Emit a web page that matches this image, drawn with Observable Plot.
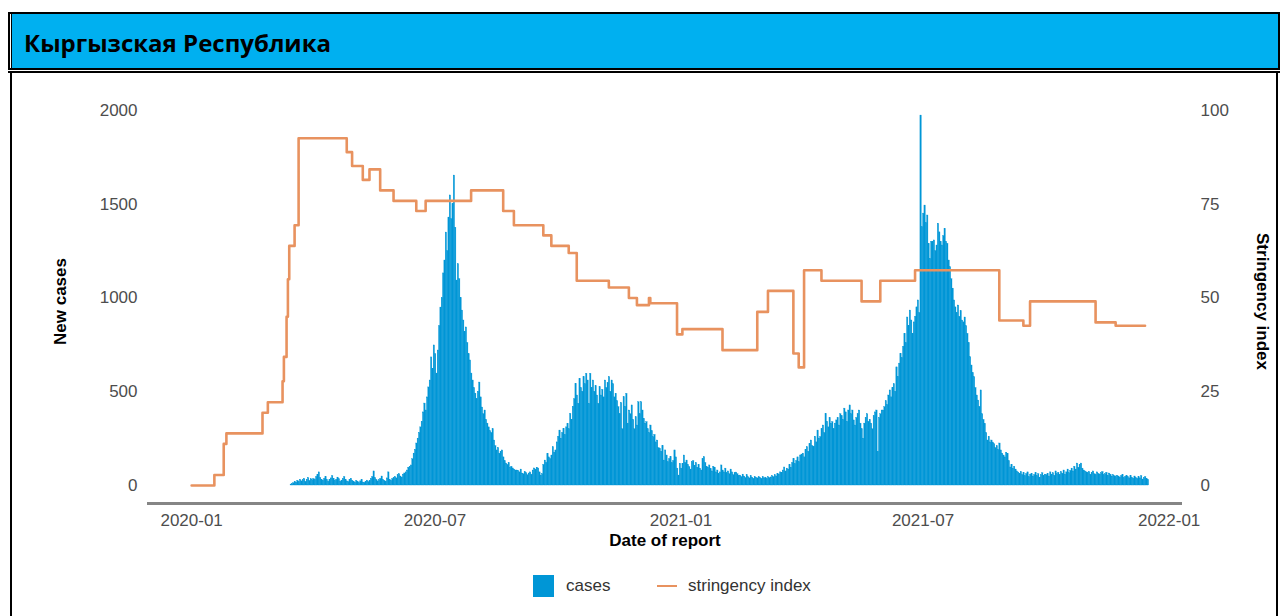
<!DOCTYPE html>
<html>
<head>
<meta charset="utf-8">
<script src="https://cdn.jsdelivr.net/npm/d3@7"></script>
<script src="https://cdn.jsdelivr.net/npm/@observablehq/plot@0.6"></script>
<style>
  html, body { margin: 0; padding: 0; background: #fff; }
  body { width: 1280px; height: 616px; overflow: hidden; position: relative; font-family: "Liberation Sans", Arial, sans-serif; }
  #titlebar { position: absolute; left: 8px; top: 12px; width: 1268px; height: 54px; background: #00B0F0;
    border: 2px solid #000;
    box-shadow: inset 1px 0 0 #fff, inset 2px 0 0 #000; }
  #titletext { position: absolute; left: 24px; top: 25px; font-family: "Open Sans", sans-serif; font-weight: 700; font-size: 24px; color: #000; line-height: 36px; white-space: nowrap; }
  #rule2 { position: absolute; left: 8px; top: 71px; width: 1272px; height: 2px; background: #000; }
  #leftborder { position: absolute; left: 10px; top: 71px; width: 2px; height: 545px; background: #000; }
  #rightborder { position: absolute; left: 1276px; top: 71px; width: 2px; height: 545px; background: #000; }
  #chart { position: absolute; left: 0; top: 74px; }
  #legend { position: absolute; top: 575px; left: 0; width: 1280px; height: 22px; font-size: 17px; color: #333; }
  .sw { position: absolute; }
  .lt { position: absolute; top: 1px; line-height: 20px; }
</style>
</head>
<body>
<div id="titlebar"></div>
<div id="titletext">Кыргызская Республика</div>
<div id="rule2"></div>
<div id="leftborder"></div>
<div id="rightborder"></div>
<div id="chart"></div>
<div id="legend">
  <div class="sw" style="left:533px;top:0;width:21px;height:22px;background:#0096D6;"></div>
  <div class="lt" style="left:566px;">cases</div>
  <div class="sw" style="left:657px;top:10px;width:20px;height:2px;background:#E8925F;"></div>
  <div class="lt" style="left:688px;">stringency index</div>
</div>
<script>
// ---------- data ----------
// daily new cases, one array per month; first array starts 2020-03-15
const cases2020_03 = [5, 8, 12, 20, 15, 25, 18, 30, 22, 28, 35, 20, 30, 40, 25, 33, 28];
const cases2020_04 = [35, 30, 45, 55, 70, 40, 30, 25, 35, 45, 30, 20, 28, 38, 50, 35, 25, 30, 42, 33, 20, 26, 35, 45, 30, 22, 18, 28, 36, 25];
const cases2020_05 = [20, 15, 25, 18, 12, 22, 30, 16, 14, 20, 26, 18, 24, 35, 45, 75, 40, 30, 22, 28, 35, 48, 30, 25, 20, 38, 70, 30, 25, 35, 40];
const cases2020_06 = [45, 38, 55, 60, 48, 42, 58, 64, 70, 80, 95, 100, 107, 140, 170, 190, 224, 250, 280, 310, 340, 390, 437, 400, 470, 523, 560, 683, 620, 747];
const cases2020_07 = [700, 597, 720, 850, 949, 1000, 1131, 1200, 1349, 1250, 1429, 1547, 1420, 1500, 1653, 1375, 1093, 1180, 1100, 1000, 933, 880, 820, 843, 760, 700, 667, 597, 560, 520, 490];
const cases2020_08 = [460, 500, 549, 470, 416, 380, 400, 350, 330, 310, 290, 280, 300, 240, 210, 187, 200, 170, 180, 187, 150, 130, 117, 110, 120, 95, 100, 91, 85, 80, 80];
const cases2020_09 = [78, 70, 85, 64, 60, 72, 66, 55, 64, 70, 58, 80, 91, 85, 95, 91, 70, 53, 60, 110, 133, 120, 169, 150, 140, 160, 204, 175, 187, 230];
const cases2020_10 = [260, 293, 250, 280, 302, 270, 310, 329, 300, 382, 350, 420, 460, 542, 480, 436, 569, 520, 500, 578, 540, 596, 560, 436, 596, 520, 560, 500, 530, 480, 436];
const cases2020_11 = [524, 480, 510, 470, 560, 520, 545, 578, 500, 560, 540, 470, 489, 450, 418, 380, 440, 300, 471, 420, 489, 330, 400, 380, 427, 350, 300, 364, 320, 444];
const cases2020_12 = [380, 444, 400, 356, 330, 338, 300, 280, 320, 290, 258, 270, 230, 240, 200, 196, 180, 210, 133, 187, 160, 124, 140, 151, 120, 130, 187, 150, 90, 53, 116];
const cases2021_01 = [90, 116, 160, 120, 133, 110, 98, 85, 125, 130, 105, 120, 95, 110, 90, 80, 140, 151, 120, 100, 95, 107, 88, 75, 100, 95, 70, 80, 62, 70, 107];
const cases2021_02 = [80, 70, 90, 65, 75, 60, 85, 70, 55, 65, 69, 60, 50, 53, 45, 58, 48, 40, 55, 44, 38, 50, 42, 36, 45, 40, 38, 44];
const cases2021_03 = [40, 36, 45, 38, 42, 35, 44, 40, 43, 50, 45, 55, 48, 62, 58, 70, 65, 80, 96, 75, 90, 85, 110, 95, 120, 142, 115, 130, 150, 125, 160];
const cases2021_04 = [165, 170, 150, 190, 204, 180, 220, 240, 210, 204, 260, 230, 293, 250, 258, 300, 320, 280, 382, 340, 310, 360, 330, 338, 300, 330, 347, 360, 320, 380];
const cases2021_05 = [370, 350, 410, 390, 340, 400, 427, 380, 400, 347, 320, 360, 380, 400, 330, 300, 250, 330, 360, 380, 340, 350, 330, 300, 370, 390, 400, 180, 360, 380, 400];
const cases2021_06 = [400, 418, 450, 430, 480, 507, 470, 520, 540, 500, 630, 580, 650, 702, 680, 740, 809, 760, 896, 850, 933, 880, 809, 870, 900, 950, 987, 920, 1973, 1378];
const cases2021_07 = [1450, 1493, 1400, 1440, 1289, 1209, 1300, 1298, 1307, 1250, 1280, 1396, 1350, 1300, 1280, 1330, 1369, 1300, 1289, 1200, 1164, 1100, 1050, 987, 950, 920, 960, 900, 930, 880, 870];
const cases2021_08 = [896, 850, 809, 760, 684, 640, 600, 578, 520, 480, 453, 420, 507, 380, 350, 329, 280, 240, 260, 230, 240, 229, 220, 200, 210, 190, 224, 187, 170, 160, 150];
const cases2021_09 = [175, 169, 130, 96, 110, 90, 100, 85, 75, 69, 60, 72, 55, 65, 50, 60, 70, 45, 58, 62, 48, 55, 66, 50, 60, 42, 55, 65, 50, 58];
const cases2021_10 = [55, 62, 48, 70, 58, 65, 52, 75, 60, 68, 55, 72, 63, 80, 58, 70, 85, 65, 78, 90, 75, 100, 85, 117, 95, 110, 117, 90, 80, 75, 70];
const cases2021_11 = [65, 72, 58, 68, 75, 60, 55, 70, 62, 58, 66, 72, 55, 60, 68, 52, 64, 58, 48, 55, 50, 45, 52, 48, 42, 50, 55, 40, 46, 52];
const cases2021_12 = [45, 38, 50, 42, 36, 48, 40, 35, 44, 38, 50, 32, 40, 45, 35, 30];
const caseMonthStarts = ["2020-03-15","2020-04-01","2020-05-01","2020-06-01","2020-07-01","2020-08-01","2020-09-01","2020-10-01","2020-11-01","2020-12-01",
  "2021-01-01","2021-02-01","2021-03-01","2021-04-01","2021-05-01","2021-06-01","2021-07-01","2021-08-01","2021-09-01","2021-10-01","2021-11-01","2021-12-01"];

// stringency index: dates where the value changes, and the new value
const stringencyDates = ["2020-01-01","2020-01-18","2020-01-25","2020-01-27","2020-02-23","2020-02-27","2020-03-09","2020-03-10","2020-03-12","2020-03-13",
  "2020-03-14","2020-03-18","2020-03-21","2020-04-26","2020-04-30","2020-05-08","2020-05-13","2020-05-21","2020-05-31","2020-06-17",
  "2020-06-24","2020-07-28","2020-08-21","2020-08-29","2020-09-20","2020-09-26","2020-10-09","2020-10-15","2020-11-08","2020-11-23",
  "2020-11-29","2020-12-08","2020-12-09","2020-12-29","2021-01-02","2021-02-01","2021-02-27","2021-03-07","2021-03-26","2021-03-30",
  "2021-04-03","2021-04-16","2021-05-16","2021-05-30","2021-06-25","2021-08-27","2021-09-14","2021-09-19","2021-11-07","2021-11-22","2021-12-14"];
const stringencyValues = [0, 2.8, 11.1, 13.9, 19.4, 22.2, 27.8, 34.3, 45, 55,
  63.9, 69.4, 92.6, 88.9, 85.2, 81.5, 84.3, 78.7, 75.9, 73.2,
  75.9, 78.7, 73.2, 69.4, 66.7, 63.9, 62, 54.6, 52.8, 50,
  48.1, 50, 48.6, 40.3, 41.7, 36.1, 46.3, 51.9, 35.2, 31.5,
  57.4, 54.6, 49.1, 54.6, 57.4, 44, 42.6, 49.1, 43.5, 42.6, 42.6];

const caseTicks = [0, 500, 1000, 1500, 2000];
const dateTickLabels = ["2020-01", "2020-07", "2021-01", "2021-07", "2022-01"];

// ---------- build ----------
const parse = d3.utcParse("%Y-%m-%d");
const monthArrays = [cases2020_03, cases2020_04, cases2020_05, cases2020_06, cases2020_07, cases2020_08, cases2020_09, cases2020_10, cases2020_11, cases2020_12,
  cases2021_01, cases2021_02, cases2021_03, cases2021_04, cases2021_05, cases2021_06, cases2021_07, cases2021_08, cases2021_09, cases2021_10, cases2021_11, cases2021_12];
const caseRows = [];
monthArrays.forEach((arr, i) => {
  const start = parse(caseMonthStarts[i]);
  arr.forEach((v, j) => caseRows.push({date: d3.utcDay.offset(start, j), cases: v}));
});
const strRows = stringencyDates.map((d, i) => ({date: parse(d), value: stringencyValues[i]}));
const K = 20; // stringency 100 <-> 2000 cases
const yMin = -96;
const xTicks = dateTickLabels.map(s => d3.utcParse("%Y-%m")(s));

const chart = Plot.plot({
  width: 1280,
  height: 480,
  marginTop: 25,
  marginBottom: 51,
  marginLeft: 147,
  marginRight: 98,
  style: {fontFamily: '"Liberation Sans", Arial, sans-serif', fontSize: "17px", color: "#4d4d4d", background: "transparent", overflow: "visible"},
  x: {type: "utc", domain: [parse("2019-11-29"), parse("2022-01-11")]},
  y: {domain: [yMin, 2058.7]},
  marks: [
    Plot.rect(caseRows, {x1: "date", x2: d => d3.utcDay.offset(d.date, 1), y1: 0, y2: "cases", fill: "#0096D6", stroke: "#0096D6", strokeWidth: 0.35}),
    Plot.line(strRows, {x: "date", y: d => d.value * K, curve: "step-after", stroke: "#E8925F", strokeWidth: 2.6}),
    Plot.ruleY([yMin], {stroke: "#858585", strokeWidth: 3}),
    Plot.axisY({anchor: "left", ticks: caseTicks, tickFormat: d => String(d), tickSize: 0, tickPadding: 10, fontSize: 17, fill: "#4d4d4d", label: null}),
    Plot.axisY({anchor: "right", ticks: caseTicks, tickFormat: d => String(d / K), tickSize: 0, tickPadding: 18, fontSize: 17, fill: "#4d4d4d", label: null}),
    Plot.axisX({ticks: xTicks, tickFormat: d3.utcFormat("%Y-%m"), tickSize: 0, tickPadding: 10, fontSize: 17, fill: "#4d4d4d", label: null}),
    Plot.text(["Date of report"], {text: d => d, frameAnchor: "bottom", dy: 42, fontWeight: "bold", fontSize: 17, fill: "#000"}),
    Plot.text(["New cases"], {text: d => d, frameAnchor: "left", textAnchor: "middle", rotate: -90, dx: -87, fontWeight: "bold", fontSize: 17, fill: "#000"}),
    Plot.text(["Stringency index"], {text: d => d, frameAnchor: "right", textAnchor: "middle", rotate: 90, dx: 80, fontWeight: "bold", fontSize: 17, fill: "#000"})
  ]
});
document.getElementById("chart").appendChild(chart);
</script>
</body>
</html>
